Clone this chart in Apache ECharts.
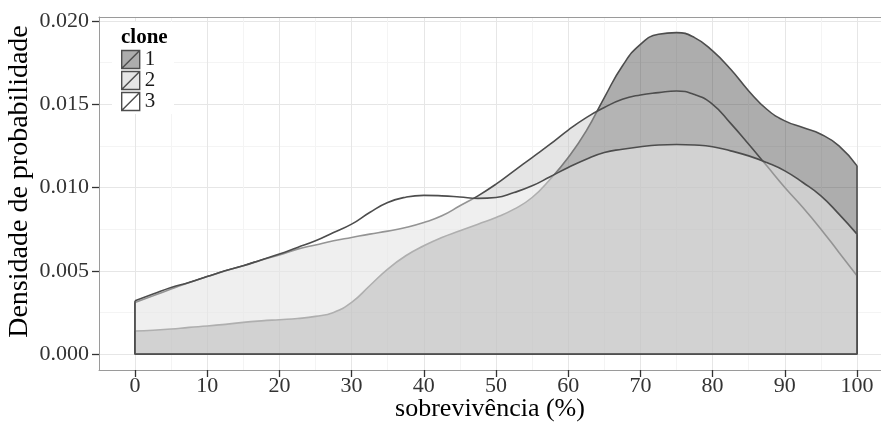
<!DOCTYPE html>
<html><head><meta charset="utf-8">
<script src="https://cdn.jsdelivr.net/npm/echarts@6/dist/echarts.min.js"></script>
<style>html,body{margin:0;padding:0;background:#fff}#c{width:881px;height:430px}</style>
</head><body><div id="c"></div>
<script>
const clones = ['1', '2', '3'];
const xs = [0, 2.5, 5, 7.5, 10, 12.5, 15, 17.5, 20, 22.5, 25, 27.5, 30, 32.5, 35, 37.5, 40, 42.5, 45, 47.5,
            50, 52.5, 55, 57.5, 60, 62.5, 65, 67.5, 70, 72.5, 75, 77.5, 80, 82.5, 85, 87.5, 90, 92.5, 95, 97.5, 100];
const clone1 = [0.00138, 0.00143, 0.0015, 0.0016, 0.00168, 0.00178, 0.0019, 0.00199, 0.00206, 0.00213,
                0.00226, 0.0025, 0.0031, 0.0041, 0.0051, 0.0059, 0.0065, 0.0070, 0.0074, 0.0078,
                0.0082, 0.0087, 0.0094, 0.0105, 0.0118, 0.0134, 0.0154, 0.0173, 0.0186, 0.0192,
                0.0193, 0.0190, 0.0182, 0.0171, 0.0158, 0.0147, 0.0140, 0.0136, 0.0132, 0.0125, 0.0113];
const clone2 = [0.0031, 0.0035, 0.0039, 0.0043, 0.00465, 0.005, 0.0053, 0.00565, 0.00595, 0.0063,
                0.00655, 0.0068, 0.0070, 0.0072, 0.00738, 0.0076, 0.0079, 0.0083, 0.0089, 0.0095,
                0.0102, 0.0110, 0.0118, 0.0126, 0.01345, 0.0142, 0.0148, 0.0153, 0.01556, 0.0157,
                0.0158, 0.01558, 0.0150, 0.01385, 0.0126, 0.0113, 0.0100, 0.0088, 0.0075, 0.0061, 0.0047];
const clone3 = [0.0032, 0.0036, 0.004, 0.0043, 0.00465, 0.005, 0.0053, 0.00565, 0.006, 0.0064,
                0.0068, 0.0073, 0.0078, 0.0085, 0.0091, 0.00942, 0.00953, 0.0095, 0.00943, 0.00935,
                0.0094, 0.0097, 0.0101, 0.01065, 0.0112, 0.0117, 0.0121, 0.0123, 0.01245, 0.01255,
                0.01258, 0.01255, 0.01245, 0.0122, 0.0119, 0.0115, 0.0110, 0.0103, 0.0095, 0.0084, 0.0072];
const xTicks = [0, 10, 20, 30, 40, 50, 60, 70, 80, 90, 100];
const xMinor = [5, 15, 25, 35, 45, 55, 65, 75, 85, 95];
const yTicks = [0, 0.005, 0.010, 0.015, 0.020];
const yMinor = [0.0025, 0.0075, 0.0125, 0.0175];

const fills = ['#333333', '#bebebe', '#ffffff'];
const fillAlpha = 0.4;
const outline = '#4d4d4d';
const border = '#9a9a9a';
const serif = '"Liberation Serif", "DejaVu Serif", serif';

function blend(hex, a) {
  const v = [1, 3, 5].map(k => parseInt(hex.substr(k, 2), 16));
  const r = v.map(c => Math.round(255 * (1 - a) + c * a));
  return 'rgb(' + r.join(',') + ')';
}

const allVals = [clone1, clone2, clone3];
const series = [];
allVals.forEach((vals, i) => {
  series.push({
    name: clones[i], type: 'line', xAxisIndex: 0, yAxisIndex: 0,
    data: xs.map((x, j) => [x, vals[j]]),
    smooth: 0.5, symbol: 'none', showSymbol: false, silent: true,
    z: 3 + 2 * i,
    lineStyle: { color: outline, width: 1.6 },
    itemStyle: { color: blend(fills[i], fillAlpha) },
    areaStyle: { color: fills[i], opacity: fillAlpha, origin: 'auto' },
    emphasis: { disabled: true }
  });
  const x0 = xs[0], xN = xs[xs.length - 1];
  series.push({
    name: 'outline' + clones[i], type: 'line', xAxisIndex: 0, yAxisIndex: 0,
    data: [[x0, vals[0]], [x0, 0], [xN, 0], [xN, vals[vals.length - 1]]],
    symbol: 'none', showSymbol: false, silent: true,
    z: 4 + 2 * i,
    lineStyle: { color: outline, width: 1.6 },
    emphasis: { disabled: true }
  });
});

const chart = echarts.init(document.getElementById('c'), null, { renderer: 'canvas' });
chart.setOption({
  animation: false,
  backgroundColor: '#ffffff',
  grid: { left: 99, top: 17, right: 0, height: 353, show: false, containLabel: false, outerBoundsMode: 'none' },
  title: {
    text: 'clone', left: 121, top: 27, padding: 0, z: 20,
    textStyle: { fontFamily: serif, fontWeight: 'bold', fontSize: 21, color: '#000' }
  },
  legend: {
    data: clones.map((c, i) => ({
      name: c,
      icon: 'path://M0,0L10,0L10,10L0,10ZM0,10L10,0',
      itemStyle: { color: blend(fills[i], fillAlpha), borderColor: outline, borderWidth: 1.4 }
    })),
    orient: 'vertical', left: 121, top: 49, padding: 0, z: 20,
    itemWidth: 18, itemHeight: 18, itemGap: 0, selectedMode: false,
    textStyle: { fontFamily: serif, fontSize: 21, lineHeight: 18, color: '#1a1a1a' }
  },
  graphic: [{ type: 'rect', left: 112, top: 22, shape: { width: 62, height: 92 }, style: { fill: '#ffffff' }, z: 1, silent: true }],
  xAxis: [{
    type: 'value', gridIndex: 0, min: -4.986, max: 103.32, position: 'bottom',
    axisLine: { show: true, onZero: false, lineStyle: { color: border, width: 1 } },
    axisTick: { show: true, customValues: xTicks, length: 7, lineStyle: { color: '#333', width: 1.3 } },
    axisLabel: { customValues: xTicks, color: '#333', fontFamily: serif, fontSize: 22, margin: 5 },
    splitLine: { show: true, lineStyle: { color: '#e6e6e6', width: 1 } },
    name: 'sobrevivência (%)', nameLocation: 'middle', nameGap: 26, nameMoveOverlap: false,
    nameTextStyle: { fontFamily: serif, fontSize: 26, color: '#000' }
  }, {
    type: 'value', gridIndex: 0, min: -4.986, max: 103.32, position: 'top',
    axisLine: { show: true, onZero: false, lineStyle: { color: border, width: 1 } },
    axisTick: { show: false, customValues: xMinor },
    axisLabel: { show: false, customValues: xMinor },
    splitLine: { show: true, lineStyle: { color: '#f4f4f4', width: 1 } }
  }],
  yAxis: [{
    type: 'value', gridIndex: 0, min: -0.00096, max: 0.02024, position: 'left',
    axisLine: { show: true, onZero: false, lineStyle: { color: border, width: 1 } },
    axisTick: { show: true, customValues: yTicks, length: 7, lineStyle: { color: '#333', width: 1.3 } },
    axisLabel: { customValues: yTicks, color: '#333', fontFamily: serif, fontSize: 22, margin: 10, formatter: v => v.toFixed(3) },
    splitLine: { show: true, lineStyle: { color: '#e6e6e6', width: 1 } },
    name: 'Densidade de probabilidade', nameLocation: 'middle', nameGap: 65, nameRotate: 90, nameMoveOverlap: false,
    nameTextStyle: { fontFamily: serif, fontSize: 28, color: '#000', padding: [0, 0, 0, 24] }
  }, {
    type: 'value', gridIndex: 0, min: -0.00096, max: 0.02024, position: 'right',
    axisLine: { show: false, onZero: false },
    axisTick: { show: false, customValues: yMinor },
    axisLabel: { show: false, customValues: yMinor },
    splitLine: { show: true, lineStyle: { color: '#f4f4f4', width: 1 } }
  }],
  series: series
});
</script></body></html>
